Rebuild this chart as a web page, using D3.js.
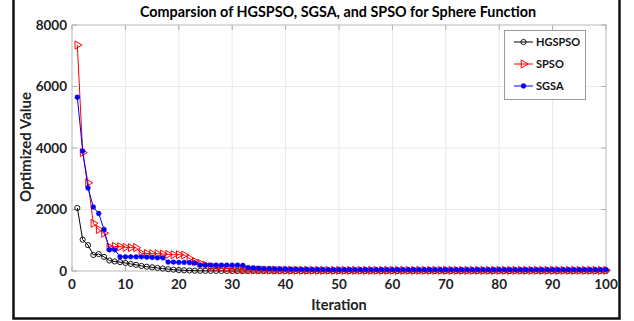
<!DOCTYPE html>
<html>
<head>
<meta charset="utf-8">
<script src="https://cdn.jsdelivr.net/npm/d3@7"></script>
<style>
  body { margin: 0; background: #fff; }
  text { font-family: Lato, "Open Sans", sans-serif; font-weight: bold; }
</style>
</head>
<body>
<svg id="chart" width="634" height="321"></svg>
<script>
// iteration values
const iterations = d3.range(1, 101);

const hgspso = [2050, 1020, 840, 520, 550, 460, 340, 310, 290, 260,
  230, 200, 165, 140, 120, 100, 80, 60, 45, 30,
  22, 15, 10, 7, 5, 4, 3, 2, 2, 1,
  1, 1, 1, 1, 1, 0, 0, 0, 0, 0,
  0, 0, 0, 0, 0, 0, 0, 0, 0, 0,
  0, 0, 0, 0, 0, 0, 0, 0, 0, 0,
  0, 0, 0, 0, 0, 0, 0, 0, 0, 0,
  0, 0, 0, 0, 0, 0, 0, 0, 0, 0,
  0, 0, 0, 0, 0, 0, 0, 0, 0, 0,
  0, 0, 0, 0, 0, 0, 0, 0, 0, 0];

const spso = [7350, 3850, 2870, 1550, 1350, 1230, 780, 800, 790, 770,
  760, 760, 570, 570, 560, 560, 550, 540, 530, 530,
  520, 410, 310, 250, 190, 140, 120, 100, 80, 60,
  50, 45, 40, 38, 35, 32, 30, 28, 26, 25,
  24, 23, 22, 22, 21, 21, 20, 20, 20, 20,
  20, 20, 20, 20, 20, 20, 20, 20, 20, 20,
  20, 20, 20, 20, 20, 20, 20, 20, 20, 20,
  20, 20, 20, 20, 20, 20, 20, 20, 20, 20,
  20, 20, 20, 20, 20, 20, 20, 20, 20, 20,
  20, 20, 20, 20, 20, 20, 20, 20, 20, 20];

const sgsa = [5650, 3900, 2700, 2080, 1870, 1350, 690, 690, 460, 460,
  460, 460, 460, 450, 440, 430, 430, 290, 290, 280,
  280, 270, 260, 190, 190, 190, 190, 190, 190, 190,
  190, 180, 110, 100, 90, 80, 80, 70, 70, 65,
  60, 60, 55, 55, 50, 50, 50, 45, 45, 45,
  45, 45, 45, 45, 45, 45, 45, 45, 45, 45,
  45, 45, 45, 45, 45, 45, 45, 45, 45, 45,
  45, 45, 45, 45, 45, 45, 45, 45, 45, 45,
  45, 45, 45, 45, 45, 45, 45, 45, 45, 45,
  45, 45, 45, 45, 45, 45, 45, 45, 45, 45];

const seriesNames = ['HGSPSO', 'SPSO', 'SGSA'];
const xTicks = [0, 10, 20, 30, 40, 50, 60, 70, 80, 90, 100];
const yTicks = [0, 2000, 4000, 6000, 8000];

const svg = d3.select('#chart');
const margin = {left: 72, top: 25, right: 606, bottom: 271};

// outer frame (left, right, bottom)
svg.append('path')
  .attr('d', `M13.5,0 V318.5 H619.5 V0`)
  .attr('fill', 'none')
  .attr('stroke', '#111')
  .attr('stroke-width', 2.5);

const x = d3.scaleLinear().domain([0, 100]).range([margin.left, margin.right]);
const y = d3.scaleLinear().domain([0, 8000]).range([margin.bottom, margin.top]);

/*网格*/
const grid = svg.append('g');
grid.selectAll('.gx').data(xTicks.slice(1, -1)).enter().append('line')
  .attr('x1', d => x(d)).attr('x2', d => x(d))
  .attr('y1', margin.top).attr('y2', margin.bottom)
  .attr('stroke', '#e8e8e8').attr('stroke-width', 1);
grid.selectAll('.gy').data(yTicks.slice(1, -1)).enter().append('line')
  .attr('y1', d => y(d)).attr('y2', d => y(d))
  .attr('x1', margin.left).attr('x2', margin.right)
  .attr('stroke', '#e8e8e8').attr('stroke-width', 1);

// box and inward ticks
svg.append('rect')
  .attr('x', margin.left).attr('y', margin.top)
  .attr('width', margin.right - margin.left)
  .attr('height', margin.bottom - margin.top)
  .attr('fill', 'none').attr('stroke', '#c4c4c4').attr('stroke-width', 1.2);

const tk = svg.append('g').attr('stroke', '#b0b0b0').attr('stroke-width', 1);
xTicks.forEach(t => {
  tk.append('line').attr('x1', x(t)).attr('x2', x(t)).attr('y1', margin.bottom).attr('y2', margin.bottom - 5);
  tk.append('line').attr('x1', x(t)).attr('x2', x(t)).attr('y1', margin.top).attr('y2', margin.top + 5);
});
yTicks.forEach(t => {
  tk.append('line').attr('y1', y(t)).attr('y2', y(t)).attr('x1', margin.left).attr('x2', margin.left + 5);
  tk.append('line').attr('y1', y(t)).attr('y2', y(t)).attr('x1', margin.right).attr('x2', margin.right - 5);
});

// tick labels
svg.append('g').selectAll('text').data(xTicks).enter().append('text')
  .attr('x', d => x(d)).attr('y', margin.bottom + 18)
  .attr('text-anchor', 'middle').attr('font-size', 13.5).attr('fill', '#222')
  .text(d => d);
svg.append('g').selectAll('text').data(yTicks).enter().append('text')
  .attr('x', margin.left - 5).attr('y', d => y(d) + 4.5)
  .attr('text-anchor', 'end').attr('font-size', 13.5).attr('fill', '#222')
  .text(d => d);

// titles
svg.append('text')
  .attr('x', 338).attr('y', 17)
  .attr('text-anchor', 'middle').attr('font-size', 14.5).attr('fill', '#000')
  .attr('textLength', 396).attr('lengthAdjust', 'spacingAndGlyphs')
  .text('Comparsion of HGSPSO, SGSA, and SPSO for Sphere Function');
svg.append('text')
  .attr('x', 339).attr('y', 310)
  .attr('text-anchor', 'middle').attr('font-size', 14.5).attr('fill', '#222')
  .text('Iteration');
svg.append('text')
  .attr('transform', 'translate(31,147) rotate(-90)')
  .attr('text-anchor', 'middle').attr('font-size', 15).attr('fill', '#222')
  .text('Optimized Value');

/*曲线*/
const colors = ['#000000', '#ff0000', '#0000ff'];
const allData = [hgspso, spso, sgsa];
const line = d3.line().x((d, i) => x(iterations[i])).y(d => y(d));
const tri = d3.symbol().type(d3.symbolTriangle).size(28);

function drawMarker(g, k, cx, cy) {
  if (k === 0) {
    g.append('circle').attr('cx', cx).attr('cy', cy).attr('r', 2.6)
      .attr('fill', 'none').attr('stroke', colors[0]).attr('stroke-width', 0.9);
  } else if (k === 1) {
    g.append('path').attr('d', tri())
      .attr('transform', `translate(${cx},${cy}) rotate(90)`)
      .attr('fill', 'none').attr('stroke', colors[1]).attr('stroke-width', 1);
  } else {
    g.append('circle').attr('cx', cx).attr('cy', cy).attr('r', 2.4)
      .attr('fill', colors[2]).attr('stroke', colors[2]).attr('stroke-width', 0.5);
  }
}

allData.forEach((vals, k) => {
  const g = svg.append('g');
  g.append('path').datum(vals)
    .attr('d', line)
    .attr('fill', 'none').attr('stroke', colors[k]).attr('stroke-width', 1);
  vals.forEach((v, i) => drawMarker(g, k, x(iterations[i]), y(v)));
});

/*图例*/
const lg = svg.append('g');
lg.append('rect')
  .attr('x', 504.5).attr('y', 30.5).attr('width', 81).attr('height', 69)
  .attr('fill', '#fff').attr('stroke', '#999').attr('stroke-width', 1);
seriesNames.forEach((name, k) => {
  const ly = 42 + k * 22;
  lg.append('line').attr('x1', 514).attr('x2', 533).attr('y1', ly).attr('y2', ly)
    .attr('stroke', colors[k]).attr('stroke-width', 1);
  drawMarker(lg, k, 523.5, ly);
  lg.append('text').attr('x', 536).attr('y', ly + 4)
    .attr('font-size', 11).attr('fill', '#111').text(name);
});
</script>
</body>
</html>
